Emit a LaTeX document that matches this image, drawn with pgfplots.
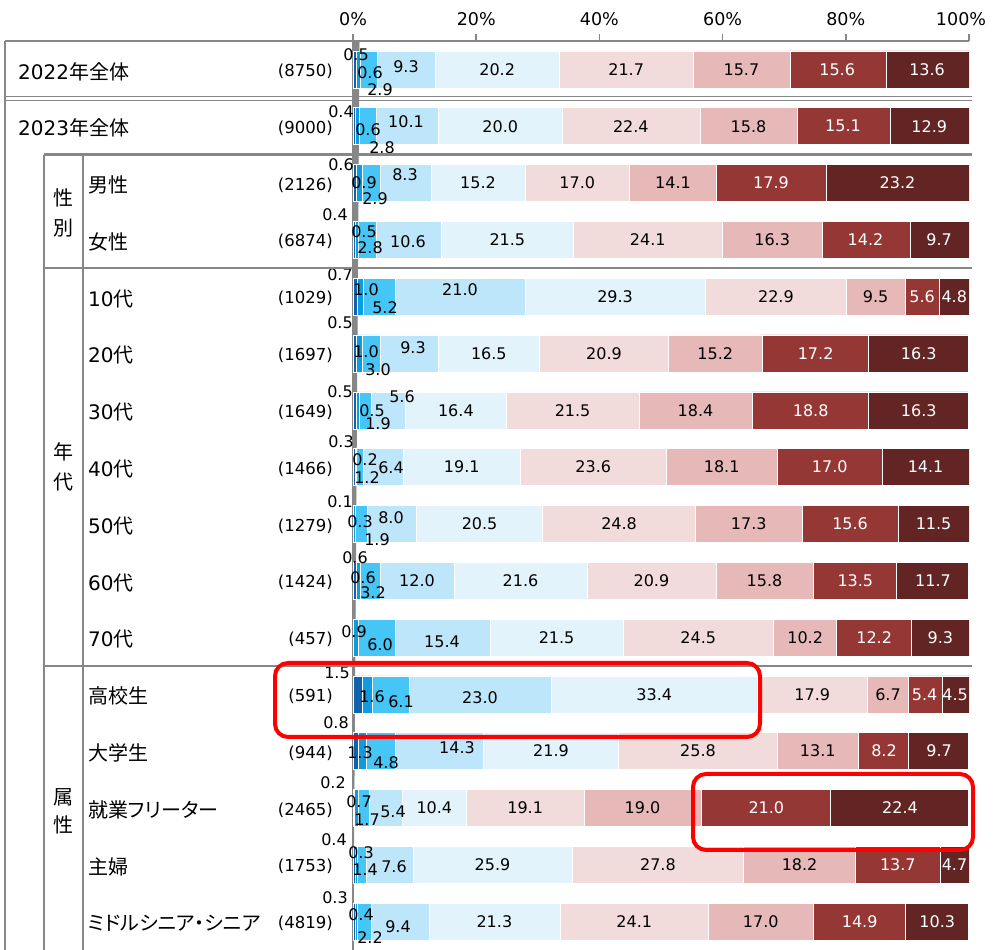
\documentclass[border=0pt]{standalone}
\usepackage{fontspec}
\setmainfont{DejaVu Sans}
\newfontfamily\jp{Noto Sans CJK JP}[RawFeature=+palt]
\usepackage{pgfplots}
\usepackage{pgfplotstable}
\pgfplotsset{compat=1.18}

\definecolor{s1}{HTML}{0F62AE}
\definecolor{s2}{HTML}{0E9BE0}
\definecolor{s3}{HTML}{45C6F6}
\definecolor{s4}{HTML}{BEE6FA}
\definecolor{s5}{HTML}{E2F3FC}
\definecolor{s6}{HTML}{F2DCDB}
\definecolor{s7}{HTML}{E6B9B8}
\definecolor{s8}{HTML}{953735}
\definecolor{s9}{HTML}{632523}
\definecolor{linegray}{HTML}{878787}
\definecolor{hilite}{HTML}{FF0000}

\newcommand\lblfont{\fontsize{16}{19}\selectfont}
\newcommand\rowfont{\fontsize{20}{23}\selectfont}
\newcommand\cntfont{\fontsize{16.5}{20}\selectfont}
\newcommand\tickfont{\fontsize{17.5}{20}\selectfont}

% r = row from the top; a..i = segments left to right (%)
\pgfplotstableread{
r  a   b   c   d    e    f    g    h    i
0  0.5 0.6 2.9 9.3  20.2 21.7 15.7 15.6 13.6
1  0.4 0.6 2.8 10.1 20.0 22.4 15.8 15.1 12.9
2  0.6 0.9 2.9 8.3  15.2 17.0 14.1 17.9 23.2
3  0.4 0.5 2.8 10.6 21.5 24.1 16.3 14.2 9.7
4  0.7 1.0 5.2 21.0 29.3 22.9 9.5  5.6  4.8
5  0.5 1.0 3.0 9.3  16.5 20.9 15.2 17.2 16.3
6  0.5 0.5 1.9 5.6  16.4 21.5 18.4 18.8 16.3
7  0.3 0.2 1.2 6.4  19.1 23.6 18.1 17.0 14.1
8  0.1 0.3 1.9 8.0  20.5 24.8 17.3 15.6 11.5
9  0.6 0.6 3.2 12.0 21.6 20.9 15.8 13.5 11.7
10 0.0 0.9 6.0 15.4 21.5 24.5 10.2 12.2 9.3
11 1.5 1.6 6.1 23.0 33.4 17.9 6.7  5.4  4.5
12 0.8 1.3 4.8 14.3 21.9 25.8 13.1 8.2  9.7
13 0.2 0.7 1.7 5.4  10.4 19.1 19.0 21.0 22.4
14 0.4 0.3 1.4 7.6  25.9 27.8 18.2 13.7 4.7
15 0.3 0.4 2.2 9.4  21.3 24.1 17.0 14.9 10.3
}\data
\pgfplotstablecreatecol[create col/expr={\thisrow{a}+\thisrow{b}+\thisrow{c}+\thisrow{d}+0.5*\thisrow{e}}]{me}\data
\pgfplotstablecreatecol[create col/expr={\thisrow{a}+\thisrow{b}+\thisrow{c}+\thisrow{d}+\thisrow{e}+0.5*\thisrow{f}}]{mf}\data
\pgfplotstablecreatecol[create col/expr={\thisrow{a}+\thisrow{b}+\thisrow{c}+\thisrow{d}+\thisrow{e}+\thisrow{f}+0.5*\thisrow{g}}]{mg}\data
\pgfplotstablecreatecol[create col/expr={100-\thisrow{i}-0.5*\thisrow{h}}]{mh}\data
\pgfplotstablecreatecol[create col/expr={100-0.5*\thisrow{i}}]{mi}\data

% where the labels of the small segments sit (x in %, y in rows from the top)
\pgfplotstableread{
x     y      v
0.49  -0.253 0.5
2.76  0.063  0.6
4.38  0.363  2.9
8.60  -0.042 9.3
-1.95 0.750  0.4
2.44  1.067  0.6
4.71  1.384  2.8
8.60  0.926  10.1
-1.95 1.683  0.6
1.79  2.000  0.9
3.57  2.282  2.9
8.44  1.859  8.3
-2.92 2.563  0.4
1.79  2.863  0.5
2.76  3.144  2.8
8.93  3.039  10.6
-2.11 3.618  0.7
2.11  3.882  1.0
5.19  4.199  5.2
17.37 3.882  21.0
-2.11 4.463  0.5
2.11  4.974  1.0
4.06  5.290  3.0
9.74  4.903  9.3
-2.11 5.678  0.5
3.08  6.000  0.5
4.06  6.241  1.9
7.95  5.766  5.6
-1.95 6.558  0.3
1.95  6.875  0.2
2.27  7.192  1.2
6.17  7.016  6.4
-2.11 7.615  0.1
1.14  7.967  0.3
3.90  8.283  1.9
6.17  7.896  8.0
0.32  8.600  0.6
1.62  8.952  0.6
3.25  9.217  3.2
10.39 9.000  12.0
0.16  9.903  0.9
4.38  10.132 6.0
14.45 10.079 15.4
-2.60 10.625 1.5
3.08  11.048 1.6
7.79  11.136 6.1
20.62 11.065 23.0
-2.76 11.504 0.8
1.14  12.032 1.3
5.36  12.208 4.8
16.88 11.944 14.3
-3.25 12.560 0.2
0.97  12.894 0.7
2.27  13.211 1.7
6.49  13.070 5.4
-3.08 13.563 0.4
1.30  13.792 0.3
1.95  14.092 1.4
6.66  14.039 7.6
-2.92 14.585 0.3
1.30  14.884 0.4
2.76  15.289 2.2
7.31  15.095 9.4
}\lbltab

\pgfplotsset{
  panel/.style={at={(353pt,0pt)}, anchor=south west, scale only axis,
    width=616pt, height=909pt, xmin=0, xmax=100, ymin=-15.5, ymax=0.5},
  seg/.style={fill=#1, draw=white, line width=0.5pt},
  lbl/.style={only marks, mark=none, nodes near coords, point meta=explicit symbolic,
    every node near coord/.append style={anchor=center, inner sep=0pt, font=\lblfont, text=#1}},
}

\begin{document}
\begin{tikzpicture}[x=1pt,y=1pt]
\path[use as bounding box] (0,0) rectangle (996,950);

\begin{axis}[panel,
  xbar stacked, bar width=37pt,
  axis x line*=top, axis y line*=left,
  xtick={0,20,40,60,80,100},
  xticklabels={0\%,20\%,40\%,60\%,80\%,100\%\hspace*{16pt}},
  xticklabel style={font=\tickfont, yshift=5pt},
  ytick=\empty,
  tick align=outside, major tick length=7pt,
  axis line style={linegray, line width=1.6pt},
  tick style={linegray, line width=1.6pt},
]
\addplot[seg=s1] table[x=a, y expr=-\thisrow{r}] {\data};
\addplot[seg=s2] table[x=b, y expr=-\thisrow{r}] {\data};
\addplot[seg=s3] table[x=c, y expr=-\thisrow{r}] {\data};
\addplot[seg=s4] table[x=d, y expr=-\thisrow{r}] {\data};
\addplot[seg=s5] table[x=e, y expr=-\thisrow{r}] {\data};
\addplot[seg=s6] table[x=f, y expr=-\thisrow{r}] {\data};
\addplot[seg=s7] table[x=g, y expr=-\thisrow{r}] {\data};
\addplot[seg=s8] table[x=h, y expr=-\thisrow{r}] {\data};
\addplot[seg=s9] table[x=i, y expr=-\thisrow{r}] {\data};
\pgfplotsinvokeforeach{0.5,1.5,...,14.5}{
  \draw[linegray, line width=1.4pt] (axis cs:0,-#1) -- ++(6pt,0);
}
\end{axis}

\begin{axis}[panel, hide axis, clip=false]
\addplot[lbl=black] table[x=x, y expr=-\thisrow{y}, meta=v] {\lbltab};
\addplot[lbl=black] table[x=me, y expr=-\thisrow{r}, meta=e] {\data};
\addplot[lbl=black] table[x=mf, y expr=-\thisrow{r}, meta=f] {\data};
\addplot[lbl=black] table[x=mg, y expr=-\thisrow{r}, meta=g] {\data};
\addplot[lbl=white] table[x=mh, y expr=-\thisrow{r}, meta=h] {\data};
\addplot[lbl=white] table[x=mi, y expr=-\thisrow{r}, meta=i] {\data};
\end{axis}

% table frame
\begin{scope}[linegray]
\draw[line width=2.2pt] (5,909) -- (353,909);
\draw[line width=2.2pt] (5,909) -- (5,0);
\draw[line width=1.5pt] (5,853.3) -- (972,853.3);
\draw[line width=1.5pt] (5,849.3) -- (972,849.3);
\draw[line width=2.2pt] (44,795.4) -- (972,795.4);
\draw[line width=2.2pt] (44,681.8) -- (972,681.8);
\draw[line width=2.2pt] (44,284.1) -- (972,284.1);
\draw[line width=2.2pt] (44,795.4) -- (44,0);
\draw[line width=2.2pt] (83,795.4) -- (83,0);
\end{scope}

% row labels and counts
\node[anchor=west, inner sep=0pt, font=\rowfont] at (18,878.6) {2022{\jp 年全体}};
\node[anchor=east, inner sep=0pt, font=\cntfont] at (333,878.6) {(8750)};
\node[anchor=west, inner sep=0pt, font=\rowfont] at (18,821.8) {2023{\jp 年全体}};
\node[anchor=east, inner sep=0pt, font=\cntfont] at (333,821.8) {(9000)};
\foreach \i/\lab/\n in {2/{{\jp 男性}}/2126, 3/{{\jp 女性}}/6874,
    4/{10{\jp 代}}/1029, 5/{20{\jp 代}}/1697, 6/{30{\jp 代}}/1649,
    7/{40{\jp 代}}/1466, 8/{50{\jp 代}}/1279, 9/{60{\jp 代}}/1424,
    10/{70{\jp 代}}/457, 11/{{\jp 高校生}}/591, 12/{{\jp 大学生}}/944,
    13/{{\jp 就業フリーター}}/2465, 14/{{\jp 主婦}}/1753,
    15/{{\jp ミドルシニア・シニア}}/4819} {
  \node[anchor=west, inner sep=0pt, font=\rowfont] at (88,{878.6-56.81*\i}) {\lab};
  \node[anchor=east, inner sep=0pt, font=\cntfont] at (333,{878.6-56.81*\i}) {(\n)};
}

% group labels, set vertically
\begin{scope}[every node/.style={inner sep=0pt, font=\rowfont\jp}]
\node at (63,752) {性};
\node at (63,722) {別};
\node at (63,498) {年};
\node at (63,468) {代};
\node at (63,153) {属};
\node at (63,125) {性};
\end{scope}

% highlights
\draw[hilite, line width=4pt, rounded corners=13pt] (275,287) rectangle (760,213);
\draw[hilite, line width=4pt, rounded corners=13pt] (693,176) rectangle (973,100);
\end{tikzpicture}
\end{document}
